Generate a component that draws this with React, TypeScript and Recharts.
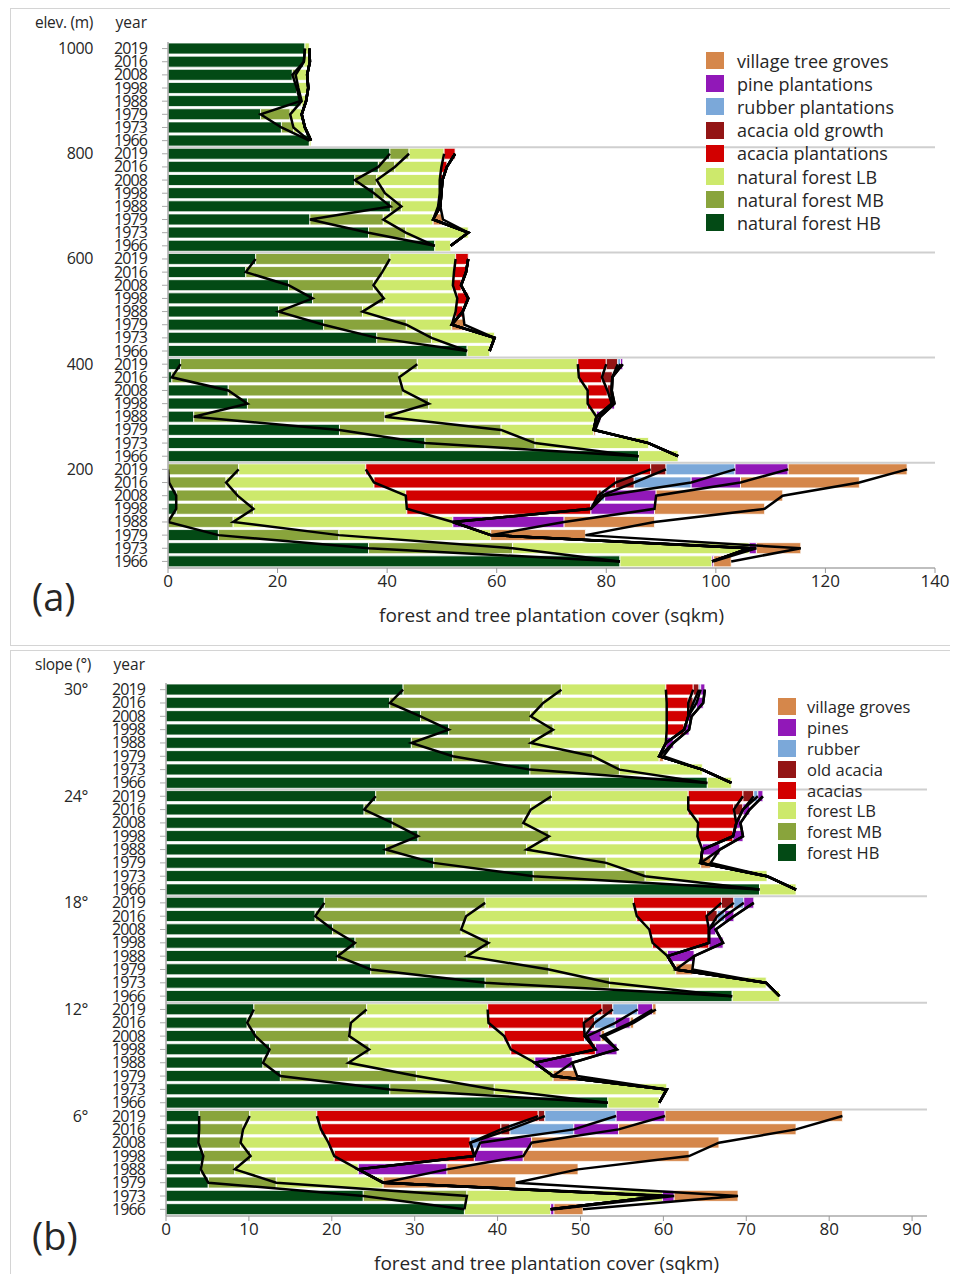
import React from 'react';
import { ComposedChart, Bar, Line, XAxis, YAxis, ReferenceLine } from 'recharts';

const years = ['2019', '2016', '2008', '1998', '1988', '1979', '1973', '1966'];
const elevGroups = ['1000', '800', '600', '400', '200'];
const slopeGroups = ['30°', '24°', '18°', '12°', '6°'];

const coverKeys = ['hb', 'mb', 'lb', 'acacia', 'old', 'rubber', 'pine', 'village'];
const coverColors = ['#034a15', '#89a43c', '#cde96c', '#d20000', '#931515', '#7ba8d9', '#9118b8', '#d5874b'];
const elevNames = ['natural forest HB', 'natural forest MB', 'natural forest LB', 'acacia plantations', 'acacia old growth', 'rubber plantations', 'pine plantations', 'village tree groves'];
const slopeNames = ['forest HB', 'forest MB', 'forest LB', 'acacias', 'old acacia', 'rubber', 'pines', 'village groves'];

// (a) by elevation band, rows: 1000, 800, 600, 400, 200 m x years
const elevHB = [
  25.0, 24.8, 22.7, 23.5, 24.1, 16.9, 20.7, 25.8,
  40.5, 38.4, 34.1, 37.6, 40.6, 25.9, 36.6, 48.7,
  16.0, 14.2, 22.0, 26.4, 20.2, 28.4, 38.1, 54.6,
  2.3, 0.7, 11.0, 14.5, 4.7, 31.3, 46.9, 85.9,
  0, 0.2, 1.5, 1.5, 0, 9.2, 36.6, 82.5,
];
const elevMB = [
  0, 0, 0.6, 0.3, 0.3, 5.4, 2.2, 0,
  3.5, 3.0, 4.0, 2.0, 2.0, 13.4, 6.8, 0,
  24.5, 24.9, 15.5, 13.0, 15.3, 15.1, 10.0, 0,
  43.2, 41.5, 31.9, 33.1, 34.9, 29.5, 20.1, 0,
  12.9, 10.4, 11.2, 14.1, 11.9, 22.0, 26.3, 0,
];
const elevLB = [
  0.8, 1.1, 2.1, 1.8, 0.8, 2.1, 2.1, 0.3,
  6.4, 8.5, 11.5, 10.0, 6.7, 9.1, 11.4, 2.9,
  12.0, 13.1, 14.5, 13.4, 17.0, 8.3, 11.5, 4.1,
  29.3, 32.8, 33.7, 29.0, 38.6, 16.9, 20.7, 7.2,
  23.2, 27.0, 30.7, 28.0, 40.1, 27.7, 43.2, 16.8,
];
const elevAcacia = [
  0, 0, 0, 0, 0, 0, 0, 0,
  2.0, 1.0, 0.5, 0.3, 0.4, 0, 0, 0,
  2.3, 2.2, 1.5, 2.0, 1.3, 0, 0, 0,
  5.2, 4.2, 3.6, 4.4, 0, 0, 0, 0,
  52.0, 44.1, 35.1, 33.6, 0, 0, 0, 0,
];
const elevOld = [
  0, 0, 0, 0, 0, 0, 0, 0,
  0, 0, 0, 0, 0, 0, 0, 0,
  0, 0, 0, 0, 0, 0, 0, 0,
  2.1, 1.9, 0.8, 0, 0, 0, 0, 0,
  2.8, 3.4, 0.6, 0, 0, 0, 0, 0,
];
const elevRubber = [
  0, 0, 0, 0, 0, 0, 0, 0,
  0, 0, 0, 0, 0, 0, 0, 0,
  0, 0, 0, 0, 0, 0, 0, 0,
  0.5, 0, 0, 0, 0, 0, 0, 0,
  12.6, 10.4, 0.6, 0, 0, 0, 0, 0,
];
const elevPine = [
  0, 0, 0, 0, 0, 0, 0, 0,
  0, 0, 0, 0, 0, 0, 0, 0,
  0, 0, 0, 0, 0, 0, 0, 0,
  0.4, 0, 0, 0.5, 0.7, 0, 0, 0,
  9.7, 9.0, 9.4, 11.6, 20.3, 0, 1.3, 0.3,
];
const elevVillage = [
  0, 0, 0, 0, 0, 0, 0, 0,
  0, 0, 0, 0, 0, 1.8, 0, 0,
  0, 0, 0, 0, 0, 2.3, 0, 0,
  0, 0, 0, 0, 0, 0.3, 0, 0,
  21.7, 21.7, 23.1, 20.1, 16.5, 17.3, 8.1, 3.2,
];

// (b) by slope class, rows: 30°, 24°, 18°, 12°, 6° x years
const slopeHB = [
  28.6, 27.0, 30.7, 34.1, 29.6, 34.6, 43.9, 65.3,
  25.3, 23.9, 27.3, 30.4, 26.5, 32.3, 44.3, 71.6,
  19.1, 18.0, 20.1, 22.8, 20.7, 24.7, 38.5, 68.3,
  10.6, 9.8, 10.8, 12.5, 11.7, 13.8, 27.0, 53.3,
  4.0, 4.0, 3.9, 4.5, 4.2, 5.1, 23.8, 36.0,
];
const slopeMB = [
  19.1, 18.5, 13.3, 12.6, 14.4, 16.9, 10.8, 0,
  21.2, 20.1, 15.8, 15.8, 17.0, 20.8, 13.5, 0,
  19.4, 18.2, 15.5, 16.1, 15.6, 21.5, 15.0, 0,
  13.6, 12.5, 11.3, 12.0, 10.3, 16.4, 12.6, 0,
  6.1, 5.3, 5.1, 5.7, 4.1, 8.2, 12.5, 0,
];
const slopeLB = [
  12.6, 14.9, 16.4, 13.7, 16.3, 8.0, 10.0, 2.9,
  16.5, 19.0, 21.1, 17.9, 21.2, 11.4, 14.7, 4.4,
  17.9, 20.6, 22.7, 19.8, 24.2, 15.3, 18.9, 5.7,
  14.6, 16.6, 18.7, 17.1, 22.5, 16.5, 20.8, 6.2,
  8.1, 9.4, 10.6, 10.1, 14.9, 12.9, 23.6, 10.4,
];
const slopeAcacia = [
  3.3, 2.6, 2.6, 2.1, 0, 0, 0, 0,
  6.6, 5.5, 4.6, 4.3, 0, 0, 0, 0,
  10.6, 8.4, 7.2, 6.8, 0, 0, 0, 0,
  13.8, 11.5, 9.7, 10.2, 0, 0, 0, 0,
  26.7, 21.7, 17.1, 16.9, 0, 0, 0, 0,
];
const slopeOld = [
  0.7, 0.6, 0, 0, 0, 0, 0, 0,
  1.3, 1.1, 0, 0, 0, 0, 0, 0,
  1.5, 1.3, 0, 0, 0, 0, 0, 0,
  1.3, 1.3, 0, 0, 0, 0, 0, 0,
  0.8, 1.1, 0, 0, 0, 0, 0, 0,
];
const slopeRubber = [
  0.2, 0.4, 0, 0, 0, 0, 0, 0,
  0.5, 0, 0, 0, 0, 0, 0, 0,
  1.2, 0.9, 0, 0, 0, 0, 0, 0,
  3.0, 2.5, 0.3, 0, 0, 0, 0, 0,
  8.6, 7.7, 1.2, 0, 0, 0, 0, 0,
];
const slopePine = [
  0.5, 0.8, 0.4, 0.6, 0.9, 0, 0, 0,
  0.6, 0.8, 0.5, 1.2, 2.1, 0, 0, 0,
  1.2, 1.1, 0.8, 1.7, 3.2, 0, 0, 0,
  1.8, 1.8, 1.7, 2.6, 4.5, 0, 0, 0,
  5.9, 5.4, 6.2, 5.9, 10.7, 0, 1.4, 0.4,
];
const slopeVillage = [
  0, 0, 0, 0, 0, 0.5, 0, 0,
  0, 0, 0, 0, 0, 1.2, 0, 0,
  0, 0, 0, 0, 0, 2.0, 0, 0,
  0.4, 0.4, 0.4, 0, 0, 2.9, 0, 0,
  21.4, 21.4, 22.6, 20.0, 15.8, 16.0, 7.7, 3.5,
];

const elevTicks = [0, 20, 40, 60, 80, 100, 120, 140];
const slopeTicks = [0, 10, 20, 30, 40, 50, 60, 70, 80, 90];

const FONT = '"Open Sans", "Noto Sans", sans-serif';
const TEXT = '#262626';

// one row per group/year, plus running totals per group so the outline lines break between groups
const buildRows = (series: number[][]) => {
  const rows: any[] = [];
  for (let g = 0; g < 5; g++) {
    years.forEach((yr, y) => {
      const i = g * years.length + y;
      const row: any = { cat: `${g}|${yr}` };
      let sum = 0;
      coverKeys.forEach((k, j) => {
        row[k] = series[j][i];
        sum += series[j][i];
        row[`c${j}_${g}`] = Math.round(sum * 100) / 100;
      });
      rows.push(row);
    });
  }
  return rows;
};

const YearTick = ({ x, y, payload, groups, groupDx }: any) => {
  const [g, yr] = String(payload.value).split('|');
  return (
    <g>
      <text x={x} y={y} dy={5.5} textAnchor="end" fontSize={16} fill={TEXT} fontFamily={FONT} letterSpacing={-0.9}>
        {yr}
      </text>
      {yr === '2019' && (
        <text x={x - groupDx} y={y} dy={5.5} textAnchor="end" fontSize={16} fill={TEXT} fontFamily={FONT} letterSpacing={-0.4}>
          {groups[Number(g)]}
        </text>
      )}
    </g>
  );
};

type PanelProps = {
  series: number[][];
  groups: string[];
  names: string[];
  domain: [number, number];
  ticks: number[];
  height: number;
  margin: { top: number; right: number; bottom: number; left: number };
  yWidth: number;
  groupDx: number;
  head: string;
  letter: string;
  letterTop: number;
  legend: { left: number; top: number; step: number; font: number; gap: number };
  style: React.CSSProperties;
};

const Panel = ({ series, groups, names, domain, ticks, height, margin, yWidth, groupDx, head, letter, letterTop, legend, style }: PanelProps) => {
  const rows = buildRows(series);
  return (
    <div style={{ position: 'absolute', left: 10, width: 960, height, border: '1px solid #d4d4d4', background: '#fff', ...style }}>
      <ComposedChart width={946} height={height} data={rows} layout="vertical" margin={margin} barCategoryGap={1}>
        <XAxis
          type="number"
          domain={domain}
          ticks={ticks}
          allowDataOverflow
          tick={{ fontSize: 17, fill: TEXT, fontFamily: FONT }}
          tickSize={5}
          tickLine={{ stroke: '#999' }}
          axisLine={{ stroke: '#aaa', strokeWidth: 1.5 }}
          height={62}
          label={{ value: 'forest and tree plantation cover (sqkm)', position: 'insideBottom', offset: 8, fontSize: 19, fill: TEXT, fontFamily: FONT }}
        />
        <XAxis xAxisId="top" orientation="top" type="number" domain={domain} height={0} tick={false} tickLine={false} axisLine={{ stroke: '#c8c8c8', strokeWidth: 1.5 }} />
        <YAxis
          type="category"
          dataKey="cat"
          interval={0}
          width={yWidth}
          tickSize={6}
          tickMargin={15}
          tickLine={{ stroke: '#aaa' }}
          axisLine={{ stroke: '#aaa', strokeWidth: 1.5 }}
          tick={<YearTick groups={groups} groupDx={groupDx} />}
        />
        <YAxis yAxisId="right" orientation="right" type="category" dataKey="cat" width={0} tick={false} tickLine={false} axisLine={{ stroke: '#c8c8c8', strokeWidth: 1.5 }} />
        {[1, 2, 3, 4].map((g) => (
          <ReferenceLine key={`sep${g}`} y={`${g}|2019`} position="start" stroke="#cfcfcf" strokeWidth={2} />
        ))}
        {coverKeys.map((k, j) => (
          <Bar key={k} dataKey={k} stackId="s" fill={coverColors[j]} stroke="#fff" strokeWidth={0.8} isAnimationActive={false} />
        ))}
        {groups.map((_, g) =>
          coverKeys.map((_k, j) => (
            <Line
              key={`l${g}_${j}`}
              dataKey={`c${j}_${g}`}
              stroke="#000"
              strokeWidth={2.5}
              dot={false}
              activeDot={false}
              type="linear"
              isAnimationActive={false}
            />
          ))
        )}
      </ComposedChart>
      <div style={{ position: 'absolute', left: 0, width: margin.left + yWidth - 75, top: 2, textAlign: 'right', fontSize: 15.5, fontFamily: FONT, color: TEXT, letterSpacing: -0.3 }}>{head}</div>
      <div style={{ position: 'absolute', left: 0, width: margin.left + yWidth - 21, top: 2, textAlign: 'right', fontSize: 15.5, fontFamily: FONT, color: TEXT }}>year</div>
      <div style={{ position: 'absolute', left: 21, top: letterTop, fontSize: 38, fontFamily: FONT, color: TEXT }}>{letter}</div>
      <div style={{ position: 'absolute', left: legend.left, top: legend.top, fontFamily: FONT, color: TEXT }}>
        {names
          .map((n, j) => ({ n, c: coverColors[j] }))
          .reverse()
          .map(({ n, c }) => (
            <div key={n} style={{ display: 'flex', alignItems: 'center', height: legend.step, fontSize: legend.font }}>
              <span style={{ width: 18, height: 17, background: c, marginRight: legend.gap, display: 'inline-block', flexShrink: 0 }} />
              {n}
            </div>
          ))}
      </div>
    </div>
  );
};

export default function App() {
  return (
    <div style={{ position: 'relative', width: 950, height: 1266, marginLeft: -8 }}>
      <style>{'html, body { overflow: hidden; }'}</style>
      <Panel
        series={[elevHB, elevMB, elevLB, elevAcacia, elevOld, elevRubber, elevPine, elevVillage]}
        groups={elevGroups}
        names={elevNames}
        domain={[0, 140]}
        ticks={elevTicks}
        height={636}
        margin={{ top: 33, right: 22, bottom: 15, left: 0 }}
        yWidth={157}
        groupDx={54}
        head="elev. (m)"
        letter="(a)"
        letterTop={561}
        legend={{ left: 695, top: 40, step: 23.2, font: 18, gap: 13 }}
        style={{ top: 0 }}
      />
      <Panel
        series={[slopeHB, slopeMB, slopeLB, slopeAcacia, slopeOld, slopeRubber, slopePine, slopeVillage]}
        groups={slopeGroups}
        names={slopeNames}
        domain={[0, 91.8]}
        ticks={slopeTicks}
        height={628}
        margin={{ top: 32, right: 30, bottom: 1, left: 0 }}
        yWidth={155}
        groupDx={57}
        head="slope (°)"
        letter="(b)"
        letterTop={558}
        legend={{ left: 767, top: 45, step: 20.9, font: 16.5, gap: 11 }}
        style={{ top: 642 }}
      />
    </div>
  );
}
